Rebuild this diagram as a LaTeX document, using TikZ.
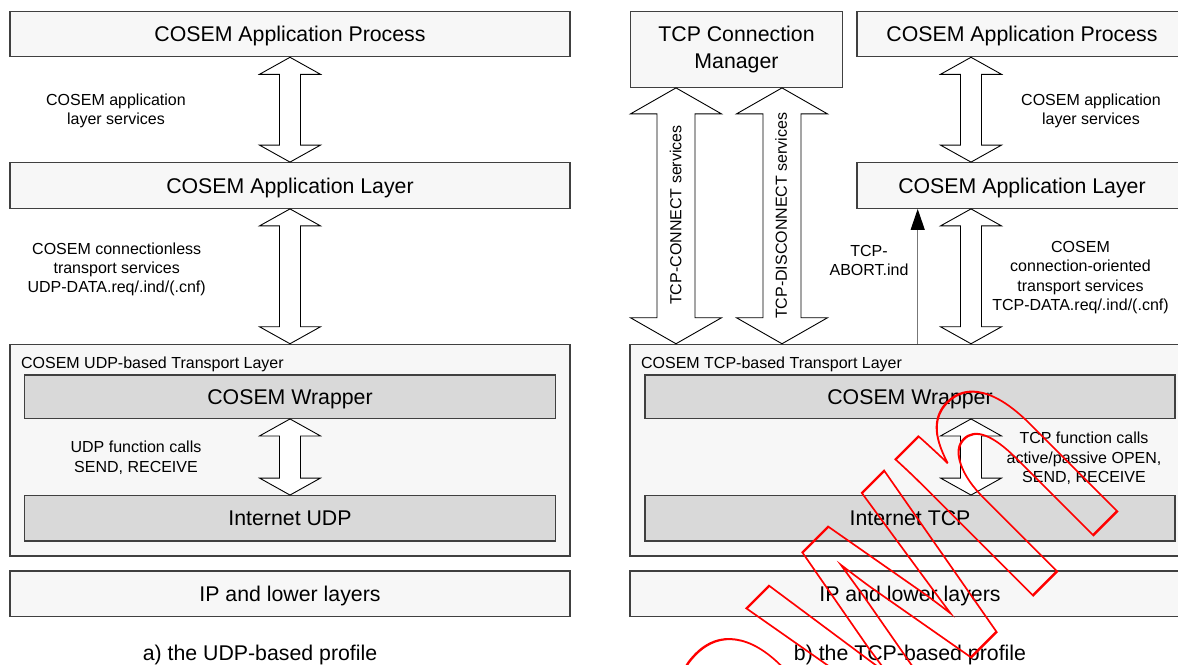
\documentclass[tikz,border=0pt]{standalone}
\usepackage{fontspec}
\setmainfont{Liberation Sans}
\usepackage{graphicx}
\usetikzlibrary{calc,arrows.meta}

\definecolor{boxline}{HTML}{404040}
\definecolor{lightfill}{HTML}{F7F7F7}
\definecolor{darkfill}{HTML}{D9D9D9}
\definecolor{abortline}{HTML}{777777}

\newcommand\bxfont{\fontsize{21.3}{26.7}\selectfont}
\newcommand\lbfont{\fontsize{16}{19.4}\selectfont}
\newcommand\wmfont{\fontsize{366}{400}\selectfont\bfseries}

% hollow two-headed block arrow between two points on the same vertical axis
% #1 upper end, #2 lower end, #3 head half width, #4 shaft half width, #5 head length
\newcommand\dualarrow[5]{%
  \draw[blockarrow] let \p1=(#1), \p2=(#2) in
    (\x1,\y1) -- ({\x1+#3},{\y1-#5}) -- ({\x1+#4},{\y1-#5})
    -- ({\x1+#4},{\y2+#5}) -- ({\x1+#3},{\y2+#5}) -- (\x1,\y2)
    -- ({\x1-#3},{\y2+#5}) -- ({\x1-#4},{\y2+#5})
    -- ({\x1-#4},{\y1-#5}) -- ({\x1-#3},{\y1-#5}) -- cycle;}

\begin{document}
\begin{tikzpicture}[x=1pt,y=-1pt,
  layer/.style={draw=boxline, line width=1.2pt, fill=lightfill, inner sep=0pt,
    font=\bxfont, align=center},
  inner/.style={layer, fill=darkfill},
  oneline/.style={text height=15.2pt, text depth=0pt},
  lbl/.style={font=\lbfont, align=center, inner sep=0pt},
  vlbl/.style={font=\lbfont, inner sep=0pt, rotate=90, text height=11.5pt, text depth=0pt},
  caption/.style={font=\bxfont, inner sep=0pt, oneline},
  blockarrow/.style={draw=black, line width=0.9pt, fill=white, line join=miter},
  abort/.style={draw=abortline, line width=1.2pt,
    -{Triangle[length=21pt,width=14pt,color=black]}},
  watermark/.style={text=red, inner sep=0pt, font=\wmfont}]

\useasboundingbox (0,0) rectangle (1178,664);
\fill[white] (0,0) rectangle (1178,664);

% ---------- a) UDP-based profile ----------
\node[layer, oneline, minimum width=560pt, minimum height=45pt] (apL) at (290,34.2) {COSEM Application Process};
\node[layer, oneline, minimum width=560pt, minimum height=45.6pt] (alL) at (290,185.5) {COSEM Application Layer};
\node[layer, minimum width=560pt, minimum height=211.7pt] (trL) at (290,450.2) {};
\node[lbl, anchor=base west] (trLt) at ([xshift=11.5pt,yshift=-24.7pt]trL.north west) {COSEM UDP-based Transport Layer};
\node[inner, oneline, minimum width=531pt, minimum height=43.3pt] (wrL) at (290,396.7) {COSEM Wrapper};
\node[inner, oneline, minimum width=531pt, minimum height=45.3pt] (inL) at (290,518.3) {Internet UDP};
\node[layer, oneline, minimum width=560pt, minimum height=45.7pt] (ipL) at (290,593.8) {IP and lower layers};

\coordinate (axL) at (290,0);
\dualarrow{apL.south -| axL}{alL.north -| axL}{30.5pt}{10.5pt}{17pt}
\dualarrow{alL.south -| axL}{trL.north -| axL}{30.5pt}{10.5pt}{17pt}
\dualarrow{wrL.south -| axL}{inL.north -| axL}{30.5pt}{10.5pt}{17pt}

\node[lbl] (l1) at (116,111.1) {COSEM application\\layer services};
\node[lbl] (l2) at (116.7,269.4) {COSEM connectionless\\transport services\\UDP-DATA.req/.ind/(.cnf)};
\node[lbl] (l3) at (136,457.9) {UDP function calls\\SEND, RECEIVE};

\node[caption] (capA) at (260,653.3) {a) the UDP-based profile};

% ---------- b) TCP-based profile ----------
\node[layer, minimum width=211.6pt, minimum height=75.6pt] (tm) at (736.5,49.5) {TCP Connection\\Manager};
\node[layer, oneline, minimum width=330pt, minimum height=45pt] (apR) at (1022,34.2) {COSEM Application Process};
\node[layer, oneline, minimum width=330pt, minimum height=45.6pt] (alR) at (1022,185.5) {COSEM Application Layer};
\node[layer, minimum width=560pt, minimum height=211.7pt] (trR) at (910,450.2) {};
\node[lbl, anchor=base west] (trRt) at ([xshift=11.5pt,yshift=-24.7pt]trR.north west) {COSEM TCP-based Transport Layer};
\node[inner, oneline, minimum width=530pt, minimum height=43.3pt] (wrR) at (910,396.7) {COSEM Wrapper};
\node[inner, oneline, minimum width=530pt, minimum height=45.3pt] (inR) at (910,518.3) {Internet TCP};
\node[layer, oneline, minimum width=560pt, minimum height=45.7pt] (ipR) at (910,593.8) {IP and lower layers};

\coordinate (axR) at (971,0);
\coordinate (axC) at (676,0);
\coordinate (axD) at (782,0);
\coordinate (axA) at (917.7,0);

\dualarrow{tm.south -| axC}{trR.north -| axC}{45.5pt}{19pt}{26pt}
\dualarrow{tm.south -| axD}{trR.north -| axD}{45.5pt}{19pt}{26pt}
\dualarrow{apR.south -| axR}{alR.north -| axR}{30.5pt}{10.5pt}{17pt}
\dualarrow{alR.south -| axR}{trR.north -| axR}{30.5pt}{10.5pt}{17pt}
\dualarrow{wrR.south -| axR}{inR.north -| axR}{30.5pt}{10.5pt}{17pt}
\draw[abort] (trR.north -| axA) -- (alR.south -| axA);

\node[vlbl] (vc) at (675.5,215) {TCP-CONNECT services};
\node[vlbl] (vd) at (781,215.8) {TCP-DISCONNECT services};

\node[lbl] (r1) at (1091,111.1) {COSEM application\\layer services};
\node[lbl] (ra) at (869,260.6) {TCP-\\ABORT.ind};
\node[lbl] (r2) at (1080.5,277.4) {COSEM\\connection-oriented\\transport services\\TCP-DATA.req/.ind/(.cnf)};
\node[lbl] (r3) at (1084,458.3) {TCP function calls\\active/passive OPEN,\\SEND, RECEIVE};

\node[caption] (capB) at (910,653.3) {b) the TCP-based profile};

% ---------- outlined stamp across the lower right ----------
\node[watermark, anchor=base east, rotate=45] (wm) at (1128.2,500.2)
  {\special{pdf:literal direct 1 0 0 RG 2.4 w 1 Tr}\scalebox{0.68}[1]{withdrawn}\special{pdf:literal direct 0 Tr}};
\end{tikzpicture}
\end{document}
